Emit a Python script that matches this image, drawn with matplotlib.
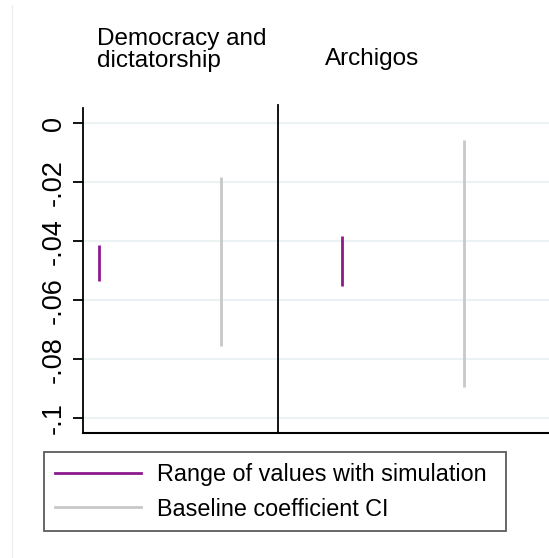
import matplotlib
matplotlib.use("Agg")
import matplotlib.pyplot as plt
from matplotlib.lines import Line2D

plt.rcParams['font.family'] = ['Liberation Sans', 'DejaVu Sans']

panels = ["Democracy and\ndictatorship", "Archigos"]
sim_low = [-0.0534, -0.0550]
sim_high = [-0.0413, -0.0382]
ci_low = [-0.0755, -0.0895]
ci_high = [-0.0183, -0.0057]
sim_x = [1, 3]
ci_x = [2, 4]
yticks = [0, -0.02, -0.04, -0.06, -0.08, -0.1]
ytick_labels = ["0", "-.02", "-.04", "-.06", "-.08", "-.1"]

purple = "#8c1a8c"
gray = "#c8c8c8"

W, H = 549, 558
fig = plt.figure(figsize=(W / 100, H / 100), dpi=100)
ax = fig.add_axes([83.3 / W, (H - 433.3) / H, (W - 83.3) / W, (433.3 - 108) / H])

ax.set_xlim(0.868, 4.70)
ax.set_ylim(-0.1051, 0.0052)

for y in yticks:
    ax.axhline(y, color="#eaf2f3", lw=1.5, zorder=0)

ax.vlines(sim_x, sim_low, sim_high, color=purple, lw=2, zorder=3)
ax.vlines(ci_x, ci_low, ci_high, color=gray, lw=2, zorder=3)

ax.axvline(2.466, ymin=0, ymax=1.01, color="black", lw=1.3, clip_on=False)

for s in ["top", "right"]:
    ax.spines[s].set_visible(False)
ax.spines["left"].set_linewidth(1.3)
ax.spines["bottom"].set_linewidth(1.5)
ax.set_xticks([])
ax.set_yticks(yticks)
ax.set_yticklabels(ytick_labels, rotation=90, va="center", fontsize=19.5)
ax.tick_params(axis="y", length=7, width=1.3, pad=5)

fig.text(97 / W, 1 - 28 / H, panels[0], fontsize=17.5, va="top", ha="left", linespacing=1.02)
fig.text(325 / W, 1 - 48 / H, panels[1], fontsize=17.5, va="top", ha="left")

handles = [Line2D([], [], color=purple, lw=2), Line2D([], [], color=gray, lw=2)]
leg = fig.legend(handles, ["Range of values with simulation", "Baseline coefficient CI"],
                 loc="lower left", bbox_to_anchor=(44 / W, (H - 531) / H, (506 - 44) / W, (531 - 452) / H),
                 mode="expand", fontsize=16.8, frameon=True, fancybox=False,
                 handlelength=3.7, handletextpad=0.7, borderaxespad=0, labelspacing=0.5,
                 borderpad=0.45)
leg.get_frame().set_edgecolor("#333333")
leg.get_frame().set_linewidth(1.3)

fig.add_artist(Line2D([11.7 / W, 11.7 / W], [0, 1 - 5 / H], color="#eeeeee", lw=1))

fig.savefig("out.png", dpi=100)
